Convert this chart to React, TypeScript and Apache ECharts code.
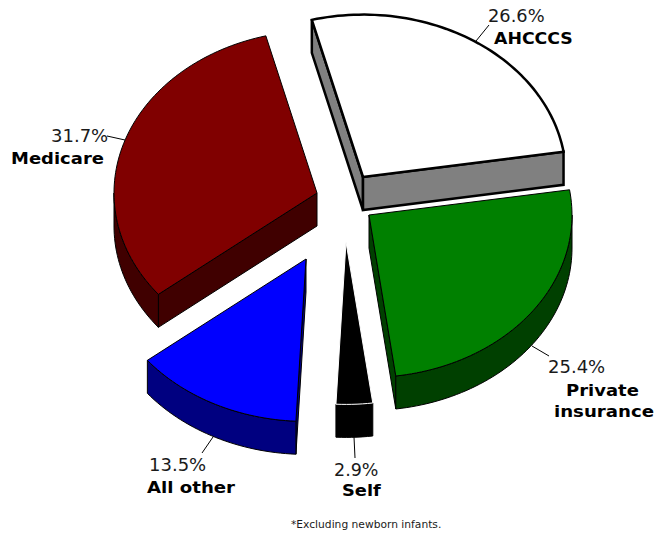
import React, { useEffect, useRef } from "react";
import * as echarts from "echarts";

const categories = ["AHCCCS", "Private insurance", "Self", "All other", "Medicare"];
const shares = [26.6, 25.4, 2.9, 13.5, 31.7];
const shareLabels = ["26.6%", "25.4%", "2.9%", "13.5%", "31.7%"];
const topColors = ["#ffffff", "#008000", "#000000", "#0000ff", "#800000"];
const sideColors = ["#808080", "#004000", "#000000", "#000080", "#400000"];
const edgeColors = ["#000000", "#000000", "#000000", "#000000", "#000000"];
const topEdgeColors = ["#000000", "#000000", "#ffffff", "#000000", "#000000"];
const edgeWidths = [2.5, 1, 1, 1, 1];
const footnote = "*Excluding newborn infants.";

// layout of the tilted, exploded pie
const RADIUS = 203;
const TILT = 0.8;
const DEPTH = 33;
const START_DEG = -14.6;
const apexes = [
  [363, 177],
  [369, 215],
  [346, 242],
  [306, 259],
  [317, 193],
];

const total = shares.reduce((a, b) => a + b, 0);
const FONT = "DejaVu Sans";

function rim(ax: number, ay: number, from: number, to: number) {
  const pts: number[][] = [];
  const n = Math.max(4, Math.ceil(Math.abs(to - from) / 1.5));
  for (let i = 0; i <= n; i++) {
    const t = ((from + ((to - from) * i) / n) * Math.PI) / 180;
    pts.push([ax + RADIUS * Math.sin(t), ay - RADIUS * TILT * Math.cos(t)]);
  }
  return pts;
}

function renderSlice(params: any, api: any) {
  const i = params.dataIndex;
  let before = 0;
  for (let j = 0; j < i; j++) before += shares[j];
  const from = START_DEG + (before / total) * 360;
  const to = from + (api.value(0) / total) * 360;
  const [ax, ay] = apexes[i];
  const arc = rim(ax, ay, from, to);
  const down = (p: number[]) => [p[0], p[1] + DEPTH];
  const side = {
    fill: sideColors[i],
    stroke: edgeColors[i],
    lineWidth: edgeWidths[i],
    lineJoin: "miter",
  };
  const apex = [ax, ay];
  const first = arc[0];
  const last = arc[arc.length - 1];
  const poly = (points: number[][], style: any) => ({ type: "polygon", shape: { points }, style });
  const children: any[] = [];
  // a radial wall shows only when the slice lies above it
  if (Math.sin((from * Math.PI) / 180) < 0) {
    children.push(poly([apex, first, down(first), down(apex)], side));
  }
  if (Math.sin((to * Math.PI) / 180) > 0) {
    children.push(poly([apex, last, down(last), down(apex)], side));
  }
  // only the front half of the rim can be seen
  const visFrom = Math.max(from, 90);
  const visTo = Math.min(to, 270);
  if (visTo > visFrom) {
    const front = rim(ax, ay, visFrom, visTo);
    children.push(poly([...front, ...front.slice().reverse().map(down)], side));
  }
  children.push(
    poly([apex, ...arc], {
      fill: topColors[i],
      stroke: topEdgeColors[i],
      lineWidth: edgeWidths[i],
      lineJoin: "miter",
    })
  );
  return { type: "group", children };
}

const valueStyle = { font: `17.5px "${FONT}"`, fill: "#1a1a1a" };
const nameStyle = { font: `bold 16.5px "${FONT}"`, fill: "#000000" };

function txt(text: string, x: number, y: number, base: any, scaleX = 1) {
  return {
    type: "text",
    x,
    y,
    scaleX,
    silent: true,
    style: { ...base, text, textAlign: "left", textVerticalAlign: "bottom" },
  };
}
function leader(x1: number, y1: number, x2: number, y2: number) {
  return { type: "line", silent: true, shape: { x1, y1, x2, y2 }, style: { stroke: "#000000", lineWidth: 1 } };
}

export default function App() {
  const ref = useRef<HTMLDivElement>(null);
  useEffect(() => {
    const chart = echarts.init(ref.current!, undefined, { renderer: "svg" });
    chart.setOption({
      animation: false,
      backgroundColor: "#ffffff",
      series: [
        {
          type: "custom",
          coordinateSystem: "none",
          silent: true,
          data: shares.map((v, i) => ({ name: categories[i], value: [v] })),
          renderItem: renderSlice,
        },
      ],
      graphic: {
        elements: [
          leader(476, 41, 489, 25),
          leader(125, 140, 107, 136),
          leader(213, 437, 202, 453),
          leader(354, 437, 355, 458),
          leader(532, 346, 549, 356),
          txt(shareLabels[0], 488, 25, valueStyle, 1.02),
          txt(categories[0], 494, 47, nameStyle, 1.05),
          txt(shareLabels[4], 51, 145, valueStyle, 1.03),
          txt(categories[4], 11, 167, nameStyle, 1.09),
          txt(shareLabels[1], 548, 376, valueStyle, 1.03),
          txt("Private", 566, 399, nameStyle, 1.09),
          txt("insurance", 554, 420, nameStyle, 1.1),
          txt(shareLabels[3], 149, 474, valueStyle, 1.03),
          txt(categories[3], 147, 496, nameStyle, 1.1),
          txt(shareLabels[2], 334, 479, valueStyle),
          txt(categories[2], 342, 499, nameStyle, 1.08),
          txt(footnote, 291, 530, { font: `10.7px "${FONT}"`, fill: "#1a1a1a" }),
        ],
      },
    });
    return () => chart.dispose();
  }, []);
  return <div ref={ref} style={{ position: "absolute", left: 0, top: 0, width: 658, height: 533 }} />;
}
